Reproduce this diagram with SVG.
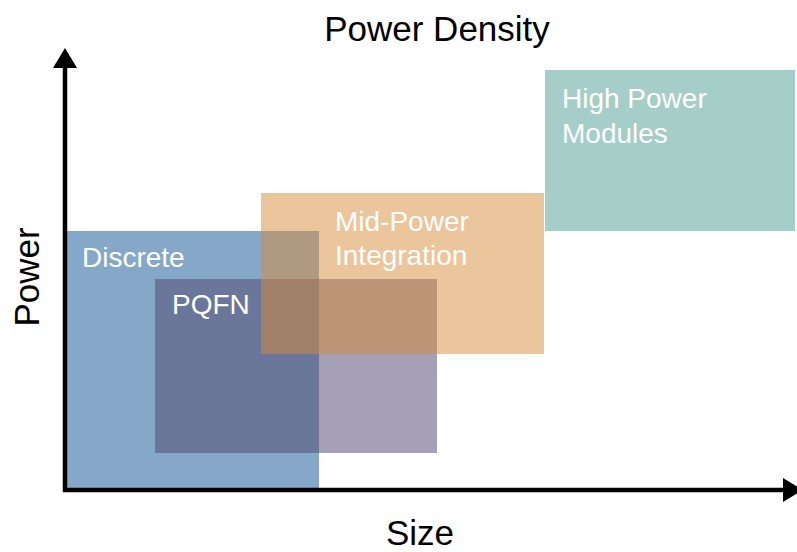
<svg xmlns="http://www.w3.org/2000/svg" width="797" height="552" viewBox="0 0 797 552">
  <style>
    .lbl { font-family: "Liberation Sans", Arial, sans-serif; font-size: 28px; fill: #ffffff; }
    .axt { font-family: "Liberation Sans", Arial, sans-serif; font-size: 35px; fill: #000000; }
    .axis { stroke: #000000; stroke-width: 4.5; fill: none; }
  </style>
  <defs>
    <marker id="arrow" viewBox="0 0 20 24" refX="0" refY="12" markerWidth="20" markerHeight="24" markerUnits="userSpaceOnUse" orient="auto">
      <path d="M0,0 L20,12 L0,24 Z" fill="#000000"/>
    </marker>
  </defs>
  <rect width="797" height="552" fill="#ffffff"/>
  <text class="axt" x="437" y="41" text-anchor="middle">Power Density</text>
  <text class="axt" x="420" y="545" text-anchor="middle">Size</text>
  <text class="axt" transform="translate(39,277) rotate(-90)" text-anchor="middle">Power</text>

  <g id="discrete">
    <rect x="66" y="231" width="253" height="260" fill="#86A8C8"/>
    <text class="lbl" x="82" y="267">Discrete</text>
  </g>
  <g id="pqfn">
    <rect x="155" y="279" width="282" height="174" fill="#524872" fill-opacity="0.52"/>
    <text class="lbl" x="172" y="314">PQFN</text>
  </g>
  <g id="mid-power">
    <rect x="261" y="193" width="283" height="161" fill="#D88C3A" fill-opacity="0.5"/>
    <text class="lbl" x="335" y="231">Mid-Power</text>
    <text class="lbl" x="335" y="265">Integration</text>
  </g>
  <g id="high-power">
    <rect x="545" y="70" width="250" height="161" fill="#A6CEC8"/>
    <text class="lbl" x="562" y="108">High Power</text>
    <text class="lbl" x="562" y="143">Modules</text>
  </g>

  <g id="connectors">
    <line class="axis" x1="65" y1="492" x2="65" y2="68" marker-end="url(#arrow)"/>
    <line class="axis" x1="63" y1="490" x2="783" y2="490" marker-end="url(#arrow)"/>
  </g>
</svg>
